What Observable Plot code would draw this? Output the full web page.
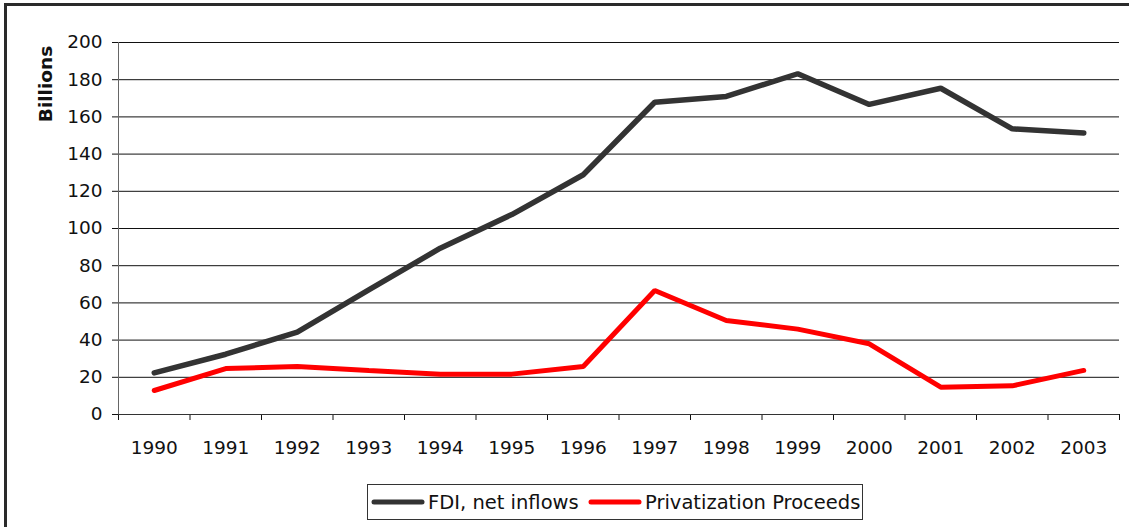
<!DOCTYPE html>
<html><head><meta charset="utf-8">
<script src="https://cdn.jsdelivr.net/npm/d3@7"></script>
<script src="https://cdn.jsdelivr.net/npm/@observablehq/plot@0.6"></script>
<style>
body{margin:0;background:#fff;font-family:"DejaVu Sans",sans-serif;color:#111;}
#wrap{position:relative;width:1129px;height:527px;overflow:hidden;}
#frame{position:absolute;left:4px;top:3px;width:1200px;height:600px;border-left:3px solid #2a2a2a;border-top:3px solid #2a2a2a;}
#chart{position:absolute;left:0;top:0;}
#ylab{position:absolute;left:45px;top:84px;transform:translate(-50%,-50%) rotate(-90deg);font-weight:bold;font-size:18.5px;white-space:nowrap;}
#legend{position:absolute;left:367px;top:484px;width:494px;height:34px;border:1px solid #333;font-size:19.5px;}
.item{position:absolute;top:0;height:34px;display:flex;align-items:center;white-space:nowrap;}
.item svg{margin-right:3px;}
</style>
</head><body>
<div id="wrap">
  <div id="frame"></div>
  <div id="chart"></div>
  <div id="ylab">Billions</div>
  <div id="legend"></div>
</div>
<script>
const years = [1990,1991,1992,1993,1994,1995,1996,1997,1998,1999,2000,2001,2002,2003];
const fdi   = [22.4,32.4,44.3,67,89.4,107.5,128.9,167.9,171,183.2,166.7,175.4,153.6,151.4];
const priv  = [12.9,24.7,25.8,23.6,21.7,21.7,25.8,66.7,50.5,45.9,38,14.7,15.4,23.7];
const yTicks = [0,20,40,60,80,100,120,140,160,180,200];
const seriesNames = ["FDI, net inflows","Privatization Proceeds"];
const seriesColors = ["#333333","#ff0000"];

const bounds = years.map(y => y - 0.5).concat([years[years.length-1] + 0.5]);
const rowsF = years.map((y,i) => ({year:y, value:fdi[i]}));
const rowsP = years.map((y,i) => ({year:y, value:priv[i]}));

const chart = Plot.plot({
  width: 1129, height: 527,
  marginLeft: 118, marginRight: 10, marginTop: 42, marginBottom: 113,
  x: {domain: [bounds[0], bounds[bounds.length-1]]},
  y: {domain: [0, 200]},
  style: {fontFamily: "DejaVu Sans", fontSize: "18px", color: "#111", background: "transparent"},
  marks: [
    Plot.gridY(yTicks, {stroke: "#111", strokeOpacity: 1}),
    Plot.axisY(yTicks, {tickSize: 6, tickPadding: 10, label: null, fontSize: 18.5, tickFormat: d => String(d)}),
    Plot.axisX(years, {tickSize: 0, tickPadding: 26, label: null, fontSize: 18.5, tickFormat: d => String(d)}),
    Plot.axisX(bounds, {tickSize: 6, label: null, tickFormat: () => ""}),
    Plot.ruleX([bounds[0]], {stroke: "#666"}),
    Plot.ruleY([0], {stroke: "#333"}),
    Plot.line(rowsF, {x: "year", y: "value", stroke: seriesColors[0], strokeWidth: 5.5, strokeLinejoin: "miter", strokeLinecap: "round"}),
    Plot.line(rowsP, {x: "year", y: "value", stroke: seriesColors[1], strokeWidth: 5, strokeLinejoin: "miter", strokeLinecap: "round"})
  ]
});
document.getElementById("chart").appendChild(chart);

const legend = document.getElementById("legend");
const lefts = [3, 220];
seriesNames.forEach((name, i) => {
  const d = document.createElement("div");
  d.className = "item";
  d.style.left = lefts[i] + "px";
  d.innerHTML = `<svg width="54" height="10"><line x1="3" y1="5" x2="51" y2="5" stroke="${seriesColors[i]}" stroke-width="5" stroke-linecap="round"/></svg><span>${name}</span>`;
  legend.appendChild(d);
});
</script>
</body></html>
